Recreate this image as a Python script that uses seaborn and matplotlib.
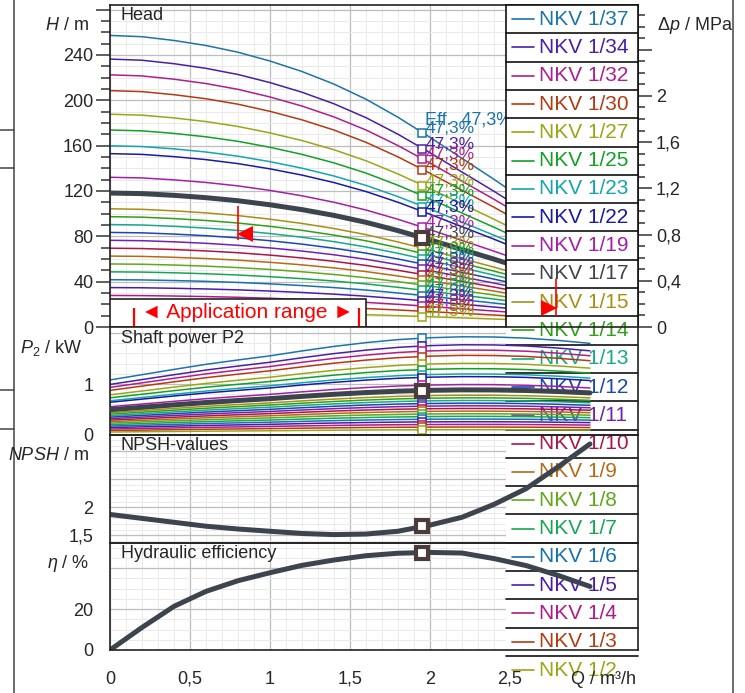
import numpy as np
import pandas as pd
import seaborn as sns
import matplotlib.pyplot as plt
from matplotlib.patches import Rectangle
from matplotlib.ticker import MultipleLocator

# ---- data ----
# flow rate Q (m3/h) of the read points
flow = [0, 0.2, 0.4, 0.6, 0.8, 1.0, 1.2, 1.4, 1.6, 1.8, 2.0, 2.2, 2.4, 2.6, 2.8, 3.0]
# head of one stage (m)
head_stage = [6.95, 6.92, 6.83, 6.71, 6.55, 6.34, 6.09, 5.79, 5.43, 5.00, 4.52, 4.02,
              3.52, 3.00, 2.47, 1.93]
# shaft power of one stage (kW)
power_stage = [0.0292, 0.0320, 0.0348, 0.0375, 0.0398, 0.0420, 0.0446, 0.0470, 0.0490,
               0.0506, 0.0516, 0.0521, 0.0520, 0.0514, 0.0502, 0.0486]
# NPSH (m)
npsh = [1.87, 1.80, 1.73, 1.66, 1.61, 1.57, 1.53, 1.51, 1.52, 1.57, 1.68, 1.82, 2.05,
        2.33, 2.72, 3.13]
# hydraulic efficiency (%)
eta = [0, 11.0, 21.3, 28.6, 33.8, 37.7, 41.3, 43.9, 46.0, 47.2, 47.6, 47.3, 44.6, 41.2,
       36.4, 31.0]

stages = [37, 34, 32, 30, 27, 25, 23, 22, 19, 17, 15, 14, 13, 12, 11, 10, 9, 8, 7, 6, 5, 4, 3, 2]
names = ["NKV 1/%d" % n for n in stages]
colors = ["#1b75a8", "#4b1fa5", "#b01e8c", "#b33a12", "#9aa616", "#14a024", "#14a5ad", "#1a1aa5",
          "#a51ea8", "#3c444d", "#a98e14", "#30a018", "#18a88a", "#1a48ad", "#7322b0", "#ad1448",
          "#b56a18", "#5ea81a", "#16a656", "#1870ae", "#4a1cae", "#ad1a8c", "#b33c12", "#9aa616"]
selected = 17

# duty point
duty_q = 1.95
duty_head_stage = 4.62
duty_power_stage = 0.0513
duty_npsh = 1.66
duty_eta = 47.3
duty_text = "47,3%"
eff_header = "Eff.  47,3%"

# application range / limit marks
app_range = [0.15, 1.556]
qmin_mark = 0.8
qmax_mark = 2.79

# ticks
x_ticks = [0, 0.5, 1, 1.5, 2, 2.5, 3]
x_labels = ["0", "0,5", "1", "1,5", "2", "2,5", ""]
h_ticks = [0, 40, 80, 120, 160, 200, 240, 280]
h_labels = ["0", "40", "80", "120", "160", "200", "240", ""]
p_ticks = [0, 1, 2]
p_labels = ["0", "1", ""]
n_ticks = [1.5, 2, 2.5, 3]
n_labels = ["1,5", "2", "", ""]
e_ticks = [0, 20, 40]
e_labels = ["0", "20", ""]
dp_ticks = [0, 0.4, 0.8, 1.2, 1.6, 2.0, 2.4]
dp_labels = ["0", "0,4", "0,8", "1,2", "1,6", "2", ""]

# ---- style ----
sns.set_style("white")
plt.rcParams["font.family"] = ["Liberation Sans", "DejaVu Sans"]
plt.rcParams["mathtext.fontset"] = "custom"
plt.rcParams["mathtext.rm"] = "Liberation Sans"
plt.rcParams["mathtext.it"] = "Liberation Sans:italic"

W, HP = 745, 693
fig = plt.figure(figsize=(W / 100, HP / 100), dpi=100)


def fx(px):
    return px / W


def fy(py):
    return 1 - py / HP


# panel rectangles (figure pixels: top, bottom)
panels = {"h": (5, 327), "p": (327, 435), "n": (435, 543), "e": (543, 650)}


def rect(key):
    top, bot = panels[key]
    return [fx(110), fy(bot), 528 / W, (bot - top) / HP]


def setup(a, ylim, yticks, ylabels, yminor, grid=True, ticks=True):
    a.set_xlim(0, 3.3)
    a.set_ylim(*ylim)
    a.xaxis.set_major_locator(MultipleLocator(0.5))
    a.xaxis.set_minor_locator(MultipleLocator(0.1))
    a.set_yticks(yticks, ylabels)
    a.yaxis.set_minor_locator(MultipleLocator(yminor))
    a.set_xlabel("")
    a.set_ylabel("")
    if grid:
        a.grid(True, which="major", color="#bdbdbd", lw=0.9)
        a.grid(True, which="minor", color="#e9e9e9", lw=0.7)
        a.set_axisbelow(True)
    else:
        a.grid(False)
    if ticks:
        kw = dict(direction="out", color="#333", width=1.1)
        a.tick_params(axis="y", which="major", length=10, labelsize=13, pad=2, **kw)
        a.tick_params(axis="y", which="minor", length=6.5, **kw)
        a.tick_params(axis="x", which="both", length=0, labelbottom=False)
        for s in a.spines.values():
            s.set_color("#222")
            s.set_linewidth(1.2)
    else:
        a.tick_params(which="both", length=0, labelleft=False, labelbottom=False)
        for s in a.spines.values():
            s.set_visible(False)


limits = {"h": (0, 284), "p": (0, 2.12), "n": (1.36, 3.29), "e": (0, 52.2)}
tickset = {"h": (h_ticks, h_labels, 10), "p": (p_ticks, p_labels, 0.2),
           "n": (n_ticks, n_labels, 0.1), "e": (e_ticks, e_labels, 5)}

# head panel (below the legend)
ax_h = fig.add_axes(rect("h"), zorder=0)
setup(ax_h, limits["h"], *tickset["h"])

# right pressure axis
ax_dp = ax_h.twinx()
ax_dp.set_ylim(0, 284 * 0.00981)
ax_dp.set_yticks(dp_ticks, dp_labels)
ax_dp.yaxis.set_minor_locator(MultipleLocator(0.1))
ax_dp.tick_params(axis="y", which="major", length=10, labelsize=13, pad=3,
                  direction="out", color="#333", width=1.1)
ax_dp.tick_params(axis="y", which="minor", length=5, direction="out", color="#333", width=1.1)
for s in ax_dp.spines.values():
    s.set_visible(False)

# grid-only backgrounds of the lower panels (below the legend)
for k in ("p", "n", "e"):
    g = fig.add_axes(rect(k), zorder=0)
    setup(g, limits[k], *tickset[k], grid=True, ticks=False)

# legend layer in figure pixel coordinates
ax_leg = fig.add_axes([0, 0, 1, 1], zorder=1)
ax_leg.set_xlim(0, W)
ax_leg.set_ylim(HP, 0)
ax_leg.axis("off")
ax_leg.patch.set_visible(False)

# curve layers of the lower panels (above the legend)
ax_p = fig.add_axes(rect("p"), zorder=2)
ax_n = fig.add_axes(rect("n"), zorder=2)
ax_e = fig.add_axes(rect("e"), zorder=2)
for k, a in (("p", ax_p), ("n", ax_n), ("e", ax_e)):
    a.patch.set_visible(False)
    setup(a, limits[k], *tickset[k], grid=False, ticks=True)

palette = dict(zip(names, colors))
thick = "#3c444d"
rows = []
for n, name in zip(stages, names):
    for q, h, p in zip(flow, head_stage, power_stage):
        rows.append({"Q": q, "H": n * h, "P": n * p, "pump": name, "n": n})
df = pd.DataFrame(rows)
thin = df[df["n"] != selected]
sel = df[df["n"] == selected]

sns.lineplot(data=thin, x="Q", y="H", hue="pump", palette=palette, legend=False,
             lw=1.1, ax=ax_h, zorder=2)
sns.lineplot(data=sel, x="Q", y="H", color=thick, lw=3.6, ax=ax_h, zorder=3)
sns.lineplot(data=thin, x="Q", y="P", hue="pump", palette=palette, legend=False,
             lw=1.1, ax=ax_p, zorder=2)
sns.lineplot(data=sel, x="Q", y="P", color=thick, lw=3.6, ax=ax_p, zorder=3)
sns.lineplot(x=flow, y=npsh, color=thick, lw=3.6, ax=ax_n)
sns.lineplot(x=flow, y=eta, color=thick, lw=3.6, ax=ax_e)
for a in (ax_h, ax_p, ax_n, ax_e):
    a.set_xlabel("")
    a.set_ylabel("")

# duty point markers and labels
mk = "#4b3b3b"
for i, (n, c) in enumerate(zip(stages, colors)):
    hy = n * duty_head_stage
    py = n * duty_power_stage
    if n == selected:
        for a, yv in ((ax_h, hy), (ax_p, py)):
            a.plot([duty_q], [yv], marker="s", ms=8, mfc="white", mec=mk, mew=3, zorder=6)
    else:
        ax_h.plot([duty_q], [hy], marker="s", ms=6, mfc="white", mec=c, mew=1.1, zorder=4)
        ax_p.plot([duty_q], [py], marker="s", ms=6, mfc="white", mec=c, mew=1.1, zorder=4)
    ax_h.text(duty_q + 0.02, hy + 4, duty_text, color=c, fontsize=12.5, ha="left",
              va="center", zorder=5)
ax_h.text(duty_q + 0.02, stages[0] * duty_head_stage + 12, eff_header, color=colors[0],
          fontsize=13, ha="left", va="center", zorder=5)
ax_n.plot([duty_q], [duty_npsh], marker="s", ms=8, mfc="white", mec=mk, mew=3, zorder=6)
ax_e.plot([duty_q], [duty_eta], marker="s", ms=8, mfc="white", mec=mk, mew=3, zorder=6)

# application range box
ax_h.add_patch(Rectangle((0, 0), 1.6, 24.3, facecolor="white", edgecolor="#222", lw=1.2, zorder=7))
ax_h.vlines(app_range, 0, 17, color="red", lw=1.6, zorder=8)
ax_h.text(0.859, 13.2, "◄ Application range ►", color="red", fontsize=15,
          ha="center", va="center", zorder=8)
# Qmin mark (head panel) and Qmax mark (drawn over the legend)
ax_h.vlines([qmin_mark], 76.5, 107, color="red", lw=1.2, zorder=8)
ax_h.plot([qmin_mark + 0.045], [82], marker="<", ms=11, color="red", mew=0, zorder=8)

# ---- legend (overflows below the head panel) ----
row_h = 28.3
lx0, lx1 = 506, 638
ax_leg.add_patch(Rectangle((lx0, 5), lx1 - lx0, 24 * row_h, facecolor="white",
                           edgecolor="none", zorder=1))
ax_leg.plot([lx0, lx0], [5, 327], color="#111", lw=1.2, zorder=2)
ax_leg.plot([lx1, lx1], [5, 327], color="#111", lw=1.2, zorder=2)
for i, (name, c) in enumerate(zip(names, colors)):
    top = 5 + i * row_h
    yc = top + row_h / 2
    ax_leg.plot([lx0, lx1], [top, top], color="#111", lw=1.2, zorder=2)
    ax_leg.plot([512, 534], [yc, yc], color=c, lw=1.2, zorder=2)
    ax_leg.text(539, yc, name, color=c, fontsize=15, ha="left", va="center", zorder=3)
ax_leg.plot([qmax_mark, qmax_mark], [11, 42], color="red", lw=1.2, zorder=5,
            transform=ax_h.transData)
ax_leg.plot([qmax_mark - 0.045], [17], marker=">", ms=11, color="red", mew=0, zorder=5,
            transform=ax_h.transData)

# x axis of the bottom panel
ax_e.set_xticks(x_ticks, x_labels)
ax_e.xaxis.set_minor_locator(MultipleLocator(0.1))
ax_e.tick_params(axis="x", which="major", length=10, labelsize=13, pad=5, labelbottom=True,
                 direction="out", color="#333", width=1.1)
ax_e.tick_params(axis="x", which="minor", length=6.5, direction="out", color="#333", width=1.1)

# panel titles
for a, t, y in ((ax_h, "Head", 16), (ax_p, "Shaft power P2", 338), (ax_n, "NPSH-values", 446),
                (ax_e, "Hydraulic efficiency", 553)):
    a.text(fx(121), fy(y), t, transform=fig.transFigure, fontsize=13, va="center", ha="left",
           zorder=9)

# axis unit labels
fig.text(fx(89), fy(25), "$H$ / m", fontsize=13, ha="right", va="center")
fig.text(fx(82), fy(348), "$P_2$ / kW", fontsize=13, ha="right", va="center")
fig.text(fx(89), fy(455), "$NPSH$ / m", fontsize=13, ha="right", va="center")
fig.text(fx(89), fy(563), r"$\eta$ / %", fontsize=13, ha="right", va="center")
fig.text(fx(657), fy(25), r"$\Delta p$ / MPa", fontsize=13, ha="left", va="center")
fig.text(fx(636), fy(680), "Q / m³/h", fontsize=13, ha="right", va="center")

# page frame lines around the chart
for x0 in (14, 733):
    ax_leg.plot([x0, x0], [0, HP], color="#444", lw=1.1)
for y0 in (130, 168, 390, 429):
    ax_leg.plot([0, 14], [y0, y0], color="#444", lw=1.1)

fig.savefig("out.png", dpi=100)
